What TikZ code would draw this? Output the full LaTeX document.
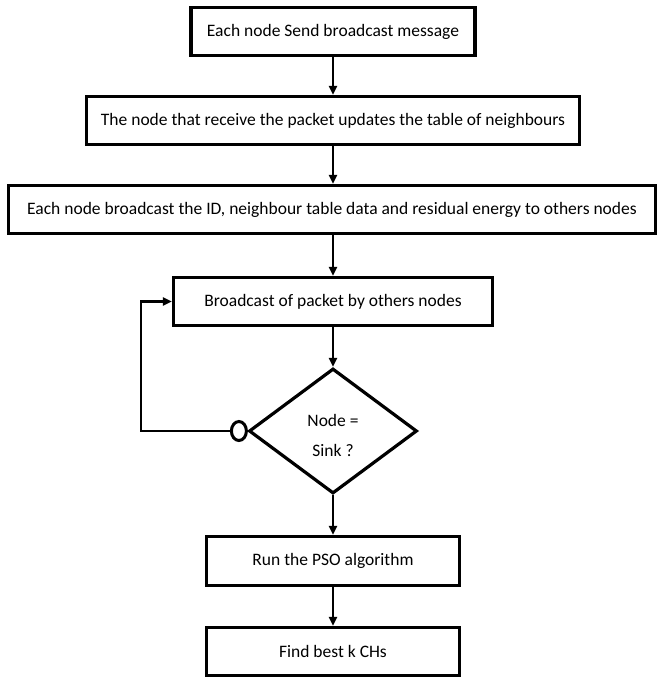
\documentclass[tikz,border=0pt]{standalone}
\usepackage{fontspec}
\setmainfont{Carlito}
\usetikzlibrary{shapes.geometric,arrows.meta}
\begin{document}
\begin{tikzpicture}[x=1pt,y=-1pt,
  every node/.style={font=\fontsize{17.5}{21}\selectfont},
  stepbox/.style={draw,line width=3.2pt,rectangle,inner sep=0pt,align=center},
  conn/.style={line width=2.8pt,-{Triangle[length=9pt,width=8pt]}}]
\useasboundingbox (0,0) rectangle (657,679);
\fill[white] (0,0) rectangle (657,679);
\node[stepbox,minimum width=284pt,minimum height=48pt] (b1) at (333,31.5) {Each node Send broadcast message};
\node[stepbox,minimum width=493pt,minimum height=48pt] (b2) at (333,120.5) {The node that receive the packet updates the table of neighbours};
\node[stepbox,minimum width=647pt,minimum height=48pt] (b3) at (332,209.5) {Each node broadcast the ID, neighbour table data and residual energy to others nodes};
\node[stepbox,minimum width=319pt,minimum height=48pt] (b4) at (333,301.5) {Broadcast of packet by others nodes};
\node[draw,line width=3.2pt,diamond,inner sep=0pt,minimum width=168pt,minimum height=125pt,align=center] (d) at (333,431) {\rule{0pt}{22pt}Node =\\[9pt]Sink ?};
\node[stepbox,minimum width=253pt,minimum height=49pt] (b6) at (333,561) {Run the PSO algorithm};
\node[stepbox,minimum width=253pt,minimum height=48pt] (b7) at (333,651.5) {Find best k CHs};
\node[draw,line width=3pt,ellipse,fill=white,inner sep=0pt,minimum width=15pt,minimum height=19pt] (c) at ([xshift=-8.5pt]d.west) {};
\coordinate (lc) at (141,431);
\draw[conn] (b1) -- (b2);
\draw[conn] (b2) -- (b3.north -| b2);
\draw[conn] (b3.south -| b4) -- (b4);
\draw[conn] (b4) -- (d);
\draw[conn] (d) -- (b6);
\draw[conn] (b6) -- (b7);
\draw[conn] (c.west) -- (lc) |- (b4.west);
\end{tikzpicture}
\end{document}
